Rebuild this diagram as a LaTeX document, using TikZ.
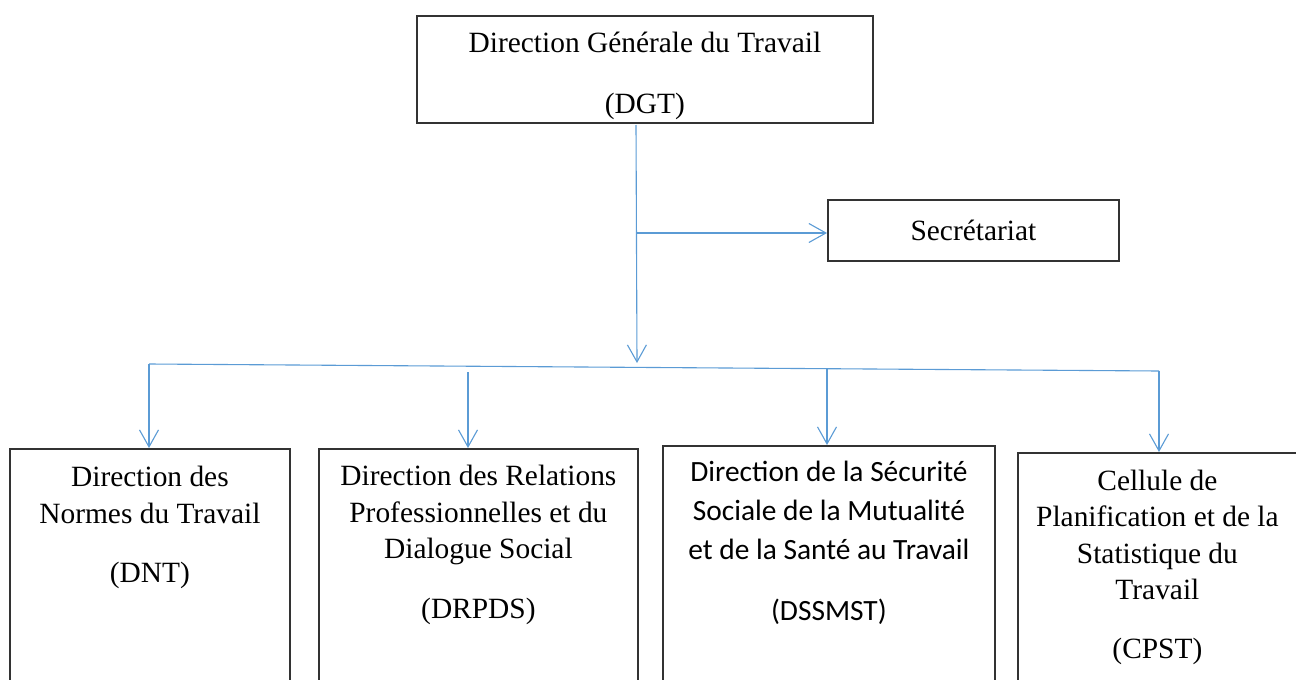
\documentclass[tikz,border=0pt]{standalone}
\usepackage{fontspec}
\setmainfont{Liberation Serif}
\newfontfamily\calibfont{Carlito}
\usetikzlibrary{arrows.meta,positioning}
\definecolor{linkblue}{RGB}{91,155,213}

\tikzset{
  orgbox/.style={draw=black!80, line width=1.8pt, inner sep=0pt, anchor=north west},
  orgtext/.style={align=center, anchor=north, inner sep=0pt,
    font=\fontsize{29.4}{36.5}\selectfont},
  wire/.style={draw=linkblue, line width=1.1pt},
  link/.style={wire, -{Straight Barb[length=17pt,width=19pt]}}
}

\begin{document}
\begin{tikzpicture}[x=1pt,y=-1pt]
  \useasboundingbox (0,0) rectangle (1296,680);
  \clip (0,0) rectangle (1296,680);
  \node[orgbox, minimum width=456pt, minimum height=107pt] (dgt) at (416,15) {};
  \node[orgtext, below=17pt of dgt.north] (dgtTxt) {Direction Générale du Travail\\[24.5pt](DGT)};
  \node[orgbox, minimum width=291pt, minimum height=61pt] (sec) at (827,199) {};
  \node[orgtext, anchor=center] (secTxt) at (sec.center) {Secrétariat};
  \node[orgbox, minimum width=280pt, minimum height=260pt] (dnt) at (9,448) {};
  \node[orgtext, below=18pt of dnt.north] (dntTxt) {Direction des\\Normes du Travail\\[23pt](DNT)};
  \node[orgbox, minimum width=319pt, minimum height=260pt] (drpds) at (318,448) {};
  \node[orgtext, below=17pt of drpds.north] (drpdsTxt) {Direction des Relations\\Professionnelles et du\\Dialogue Social\\[23pt](DRPDS)};
  \node[orgbox, minimum width=332pt, minimum height=260pt] (dssmst) at (662,445) {};
  \node[orgtext, below=16pt of dssmst.north, font=\calibfont\fontsize{29.4}{39}\selectfont] (dssmstTxt) {Direction de la Sécurité\\Sociale de la Mutualité\\et de la Santé au Travail\\[22pt](DSSMST)};
  \node[orgbox, minimum width=279pt, minimum height=260pt] (cpst) at (1017,452) {};
  \node[orgtext, below=17.5pt of cpst.north] (cpstTxt) {Cellule de\\Planification et de la\\Statistique du\\Travail\\[22pt](CPST)};
  \coordinate (trunkTop) at (636,125);
  \coordinate (hub) at (637,363);
  \coordinate (secIn) at (637,233);
  \coordinate (barL) at (149,364);
  \coordinate (barR) at (1159,371);
  \coordinate (drpdsIn) at (468,372);
  \coordinate (dssmstIn) at (827,369);
  \draw[link] (trunkTop) -- (hub);
  \draw[link] (secIn) -- (secIn -| sec.west);
  \draw[wire] (barL) -- (barR);
  \draw[link] (barL) -- (barL |- dnt.north);
  \draw[link] (drpdsIn) -- (drpdsIn |- drpds.north);
  \draw[link] (dssmstIn) -- (dssmstIn |- dssmst.north);
  \draw[link] (barR) -- (barR |- cpst.north);
\end{tikzpicture}
\end{document}
